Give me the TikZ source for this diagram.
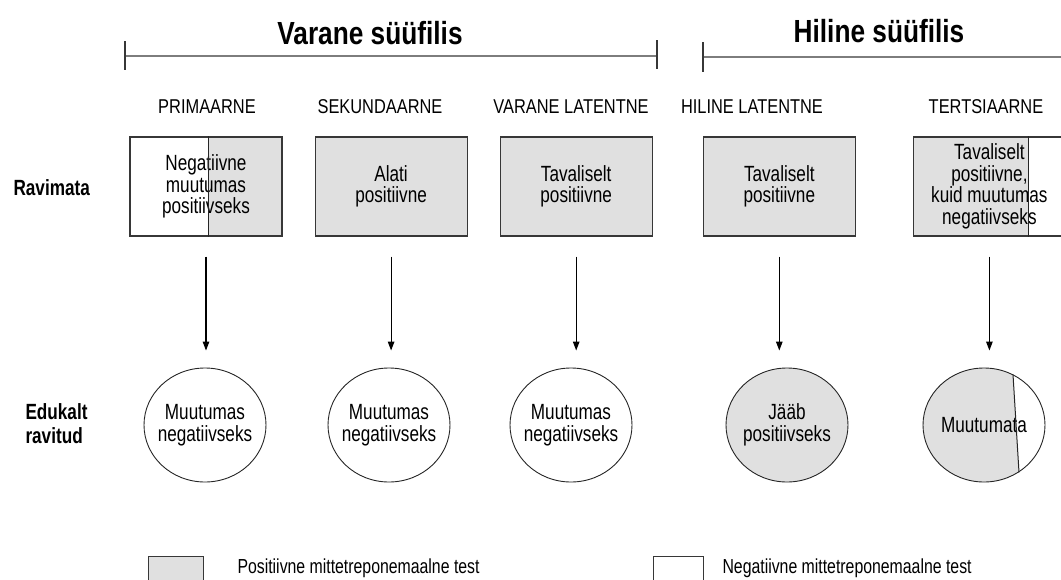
\documentclass[tikz,border=0pt]{standalone}
\usepackage{fontspec}
\setmainfont{Liberation Sans}[FakeStretch=0.78]
\newfontfamily\headfont{Liberation Sans}[FakeStretch=0.82]
\usetikzlibrary{
  arrows.meta,
  positioning,
  shapes.geometric
}
\definecolor{PosGray}{RGB}{224,224,224}
\definecolor{FrameGray}{RGB}{55,55,55}
\definecolor{BracketGray}{RGB}{125,125,125}
\newcommand\fsTitle{\headfont\fontsize{32}{34}\selectfont\bfseries}
\newcommand\fsStage{\headfont\fontsize{20}{22}\selectfont}
\newcommand\fsBox{\fontsize{22}{21.5}\selectfont}
\newcommand\fsRow{\fontsize{22}{24}\selectfont\bfseries}
\newcommand\fsLeg{\fontsize{20.3}{22}\selectfont}
\tikzset{
  stagebox/.style={
    draw=FrameGray,
    line width=1.1pt,
    minimum width=152pt,
    minimum height=99pt,
    align=center,
    font=\fsBox
  },
  posbox/.style={stagebox, fill=PosGray},
  outcome/.style={
    ellipse,
    draw=black!85,
    line width=0.9pt,
    minimum width=122pt,
    minimum height=114pt,
    label={[align=center, font=\fsBox]center:#1}
  },
  posoutcome/.style={outcome=#1, fill=PosGray},
  stagelabel/.style={font=\fsStage},
  rowlabel/.style={font=\fsRow, align=left, anchor=west},
  periodtitle/.style={font=\fsTitle},
  bracket/.style={line width=1.8pt, draw=BracketGray},
  bracketend/.style={line width=1.6pt, draw=FrameGray},
  divider/.style={line width=1pt, draw=black!85},
  arrow/.style={-{Triangle[length=9pt,width=6.5pt]}, line width=1.2pt},
  legbox/.style={draw=FrameGray, line width=1pt, minimum height=40pt, anchor=north west},
  legtext/.style={font=\fsLeg, anchor=west}
}

\begin{document}
\begin{tikzpicture}[x=1pt, y=-1pt]
  \useasboundingbox (0,0) rectangle (1061,579);
  \clip (0,0) rectangle (1061,579);

  % Periods with their brackets
  \node[periodtitle] (early) at (370,33) {Varane süüfilis};
  \node[periodtitle] (late) at (879,31) {Hiline süüfilis};
  \draw[bracket] (125,56) -- (657,56);
  \draw[bracketend] (125,41) -- (125,70);
  \draw[bracketend] (657,40) -- (657,69);
  \draw[bracket] (703,57) -- (1061,57);
  \draw[bracketend] (703,42) -- (703,72);

  % Stages
  \node[stagelabel] (sprim) at (207,107) {PRIMAARNE};
  \node[stagelabel] (ssek) at (380,107) {SEKUNDAARNE};
  \node[stagelabel] (svar) at (571,107) {VARANE LATENTNE};
  \node[stagelabel] (shil) at (752,107) {HILINE LATENTNE};
  \node[stagelabel] (sters) at (986,107) {TERTSIAARNE};

  \node[rowlabel] (untreated) at (10,188) {Ravimata};
  \node[rowlabel] (treated) at (22,424) {Edukalt\\ravitud};

  % Untreated: test result per stage
  \node[stagebox, path picture={
      \fill[PosGray] ([xshift=2pt]path picture bounding box.north)
        rectangle (path picture bounding box.south east);}]
    (b1) at (206,186.5) {Negatiivne\\muutumas\\positiivseks};
  \node[posbox, right=32pt of b1] (b2) {Alati\\positiivne};
  \node[posbox, right=32pt of b2] (b3) {Tavaliselt\\positiivne};
  \node[posbox, right=50pt of b3] (b4) {Tavaliselt\\positiivne};
  \node[stagebox, right=57pt of b4, path picture={
      \fill[PosGray] (path picture bounding box.south west)
        rectangle ([xshift=39pt]path picture bounding box.north);}]
    (b5) {Tavaliselt\\positiivne,\\kuid muutumas\\negatiivseks};
  \draw[divider] ([xshift=2pt]b1.north) -- ([xshift=2pt]b1.south);
  \draw[divider] ([xshift=39pt]b5.north) -- ([xshift=39pt]b5.south);

  % Successfully treated
  \node[outcome={Muutumas\\negatiivseks}] (c1) at (205,425) {};
  \node[outcome={Muutumas\\negatiivseks}] (c2) at (389,425) {};
  \node[outcome={Muutumas\\negatiivseks}] (c3) at (571,425) {};
  \node[posoutcome={Jääb\\positiivseks}] (c4) at (787,425) {};
  \node[outcome={Muutumata}, path picture={
      \fill[PosGray] (path picture bounding box.south west)
        -- (path picture bounding box.north west)
        -- ([xshift=28.6pt]path picture bounding box.north)
        -- ([xshift=35.6pt]path picture bounding box.south) -- cycle;}]
    (c5) at (984,425) {};
  \draw[divider] ([xshift=29pt,yshift=-7pt]c5.north) -- ([xshift=35pt,yshift=10pt]c5.south);

  \draw[arrow, shorten <=20pt, shorten >=17pt] (b1.south) -- (b1.south |- c1.north);
  \draw[arrow, shorten <=20pt, shorten >=17pt] (b2.south) -- (b2.south |- c2.north);
  \draw[arrow, shorten <=20pt, shorten >=17pt] (b3.south) -- (b3.south |- c3.north);
  \draw[arrow, shorten <=20pt, shorten >=17pt] (b4.south) -- (b4.south |- c4.north);
  \draw[arrow, shorten <=20pt, shorten >=17pt] (b5.south) -- (b5.south |- c5.north);

  % Legend
  \node[legbox, fill=PosGray, minimum width=55pt] (lpos) at (148,556) {};
  \node[legtext] (lpostext) at ([xshift=30pt,yshift=-12pt]lpos.north east) {Positiivne mittetreponemaalne test};
  \node[legbox, minimum width=50pt] (lneg) at (653,556) {};
  \node[legtext] (lnegtext) at ([xshift=15pt,yshift=-12pt]lneg.north east) {Negatiivne mittetreponemaalne test};
\end{tikzpicture}
\end{document}
